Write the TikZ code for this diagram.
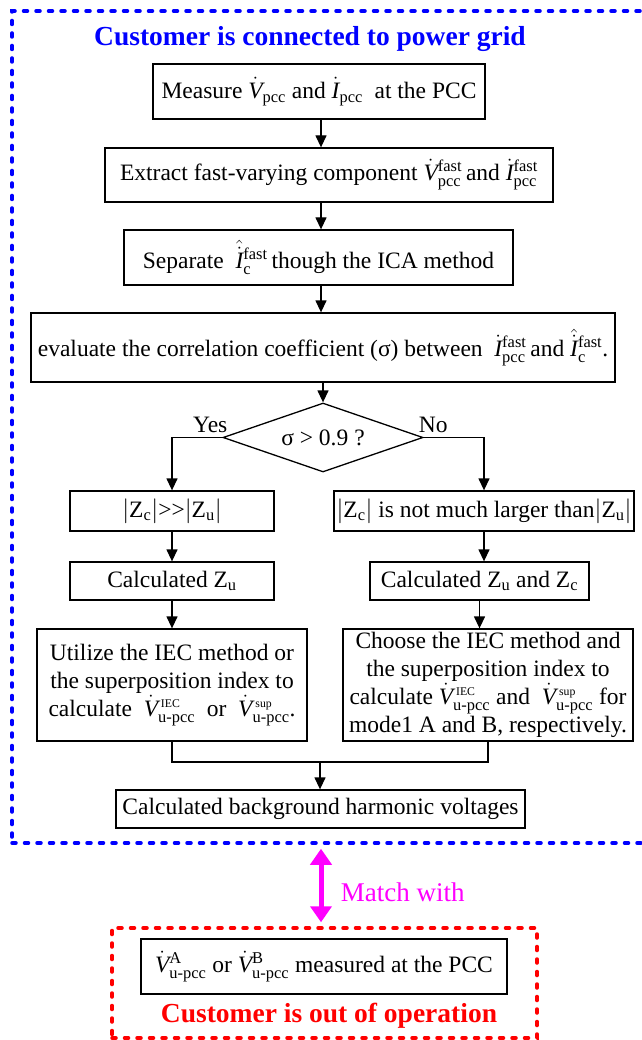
\documentclass[tikz,border=0pt]{standalone}
\usepackage{amsmath}
\usepackage{fontspec}
\setmainfont{Liberation Serif}
\usepackage{tikz}
\usetikzlibrary{positioning, arrows.meta, shapes.geometric}
\definecolor{GridBlue}{RGB}{0,0,255}
\definecolor{OffRed}{RGB}{255,0,0}
\definecolor{MatchPink}{RGB}{255,0,255}
\newcommand{\Vd}{\dot{\mathit{V}}}
\newcommand{\Id}{\dot{\mathit{I}}}
\newcommand{\Ih}{\hat{\dot{\mathit{I}}}}
\newcommand{\supmark}[1]{\,\scriptscriptstyle\text{#1}}

\begin{document}
\begin{tikzpicture}[x=1pt, y=-1pt,
  every node/.style={font=\fontsize{23.5}{28}\selectfont},
  proc/.style={draw, line width=1.3pt, align=center, inner sep=2pt},
  decision/.style={draw, diamond, line width=1.3pt, aspect=2.9, inner sep=0pt, minimum width=200pt, minimum height=69pt},
  frame/.style={draw, line width=3.5pt, dash pattern=on 4pt off 8.5pt, line cap=round},
  banner/.style={font=\fontsize{27.5}{30}\selectfont\bfseries},
  arrow/.style={->, >={Triangle[length=12pt, width=11pt]}, line width=1.3pt},
  match/.style={<->, >={Triangle[length=16pt, width=21pt]}, line width=5pt, MatchPink, shorten >=4pt, shorten <=4pt}
]
\useasboundingbox (0,0) rectangle (641,1040);

% Frames
\node[frame, draw=GridBlue, minimum width=648pt, minimum height=832pt] (grid) at (336,427) {};
\node[frame, draw=OffRed, minimum width=425pt, minimum height=110pt] (off) at (324.5,983) {};
\node[banner, text=GridBlue] (gridtitle) at (310,39) {Customer is connected to power grid};
\node[banner, text=OffRed] (offtitle) at (329,1016) {Customer is out of operation};

% Main column
\coordinate (axis) at (321,0);
\node[proc, minimum width=332pt, minimum height=55pt] (measure) at (319,91.5) {Measure $\Vd_{\text{pcc}}$ and $\Id_{\text{pcc}}$\ \ at the PCC};
\node[proc, minimum width=448pt, minimum height=54pt] (extract) at (329,175) {Extract fast-varying component $\Vd^{\text{fast}}_{\text{pcc}}$\,and $\Id^{\text{fast}}_{\text{pcc}}$};
\node[proc, minimum width=389pt, minimum height=55pt] (separate) at (318.5,257.5) {Separate\ \ $\Ih^{\text{fast}}_{\text{c}}$\,though the ICA method};
\node[proc, minimum width=584pt, minimum height=69pt] (evaluate) at (323,347.5) {evaluate the correlation coefficient (σ) between\ \ $\Id^{\text{fast}}_{\text{pcc}}$\,and $\Ih^{\text{fast}}_{\text{c}}$.};
\node[decision] (check) at (323,437.5) {σ > 0.9 ?};

% Left branch
\node[proc, minimum width=204pt, minimum height=40pt] (zbig) at (172,511) {$|\mathrm{Z}_{\text{c}}|$>{}>$|\mathrm{Z}_{\text{u}}|$};
\node[proc, minimum width=204pt, minimum height=38pt] (calczu) at (172,581) {Calculated $\mathrm{Z}_{\text{u}}$};
\node[proc, minimum width=270pt, minimum height=112pt] (utilize) at (172,685) {Utilize the IEC method or\\the superposition index to\\calculate\ \ $\Vd^{\supmark{IEC}}_{\text{u-pcc}}$\ \ or\ \ $\Vd^{\supmark{sup}}_{\text{u-pcc}}$.};

% Right branch
\node[proc, minimum width=300pt, minimum height=40pt] (znot) at (484,511) {$|\mathrm{Z}_{\text{c}}|$ is not much larger than$|\mathrm{Z}_{\text{u}}|$};
\node[proc, minimum width=219pt, minimum height=38pt] (calczuc) at (479.5,581) {Calculated $\mathrm{Z}_{\text{u}}$ and $\mathrm{Z}_{\text{c}}$};
\node[proc, minimum width=290pt, minimum height=112pt] (choose) at (488,685) {Choose the IEC method and\\the superposition index to\\calculate $\Vd^{\supmark{IEC}}_{\text{u-pcc}}$ and\ \ $\Vd^{\supmark{sup}}_{\text{u-pcc}}$ for\\mode1 A and B, respectively.};

% Result
\node[proc, minimum width=409pt, minimum height=38pt] (bghv) at (320.5,809) {Calculated background harmonic voltages};
\node[proc, minimum width=366pt, minimum height=55pt] (vmeas) at (324,966.5) {$\Vd^{\text{A}}_{\text{u-pcc}}$ or $\Vd^{\text{B}}_{\text{u-pcc}}$ measured at the PCC};

% Connections
\draw[arrow] (measure.south -| axis) -- (extract.north -| axis);
\draw[arrow] (extract.south -| axis) -- (separate.north -| axis);
\draw[arrow] (separate.south -| axis) -- (evaluate.north -| axis);
\draw[arrow] (evaluate.south -| check.north) -- (check.north);
\draw[arrow] (check.west) -| node[above, pos=0.12, inner sep=4pt] {Yes} (zbig.north);
\draw[arrow] (check.east) -| node[above, pos=0.08, inner sep=4pt] {No} (znot.north);
\draw[arrow] (zbig) -- (calczu);
\draw[arrow] (calczu) -- (utilize);
\draw[arrow] (znot.south) -- (znot.south |- calczuc.north);
\draw[arrow] (calczuc.south) -- (calczuc.south |- choose.north);
\coordinate (join) at (320,762);
\draw[line width=1.3pt] (utilize.south) |- (join) -| (choose.south);
\draw[arrow] (join) -- (bghv.north -| join);

% Match
\draw[match] (grid.south -| axis) -- node[right=14pt, yshift=-7pt, font=\fontsize{27}{30}\selectfont] {Match with} (off.north -| axis);

\end{tikzpicture}
\end{document}
